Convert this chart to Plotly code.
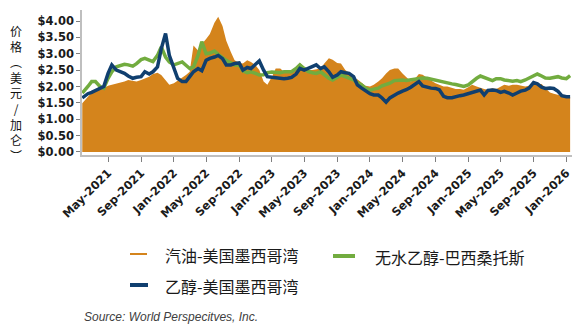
import plotly.graph_objects as go

# Semi-monthly sampling dates: one late-January 2021 start, then the 1st and 15th of each month
DATES = ["2021-01-25"]
for year in range(2021, 2027):
    for month in range(1, 13):
        if (year == 2021 and month == 1) or (year == 2026 and month > 1):
            continue
        DATES.append(f"{year}-{month:02d}-01")
        DATES.append(f"{year}-{month:02d}-15")

# Gasoline, US Gulf ($/gal)
GASOLINE_USGULF = [
    1.49,
    1.55, 1.70, 1.82, 1.88, 1.92, 1.95, 2.02, 2.05, 2.08, 2.12, 2.15, 2.20,
    2.18, 2.15, 2.20, 2.25, 2.30, 2.38, 2.42, 2.35, 2.20, 2.05,
    2.10, 2.18, 2.25, 2.35, 2.45, 3.25, 3.10, 3.30, 3.45, 3.60, 3.95, 4.13,
    3.85, 3.40, 3.05, 2.80, 2.72, 2.70, 2.80, 2.75, 2.65, 2.50, 2.15, 2.05,
    2.30, 2.55, 2.55, 2.45, 2.42, 2.45, 2.60, 2.72, 2.60, 2.50, 2.50, 2.52,
    2.55, 2.70, 2.86, 2.82, 2.72, 2.70, 2.50, 2.42, 2.20, 2.22, 2.10, 2.02,
    2.00, 2.05, 2.15, 2.25, 2.40, 2.50, 2.55, 2.55, 2.40, 2.28, 2.15, 2.22,
    2.38, 2.36, 2.25, 2.18, 2.10, 2.05, 2.00, 2.00, 1.95, 1.92, 1.92, 1.90,
    1.98, 2.05, 2.00, 1.95, 1.92, 1.90, 1.95, 1.92, 1.98, 2.05, 2.02, 2.05,
    2.05, 2.02, 2.00, 2.02, 2.05, 2.05, 2.08, 1.95, 1.82, 1.78, 1.74, 1.72,
    1.70, 1.68,
]

# Ethanol, US Gulf ($/gal)
ETHANOL_USGULF = [
    1.65,
    1.70, 1.78, 1.82, 1.88, 1.95, 2.00, 2.40, 2.66, 2.50, 2.45, 2.40, 2.32,
    2.25, 2.28, 2.30, 2.45, 2.38, 2.45, 2.60, 3.15, 3.62, 2.95,
    2.55, 2.25, 2.15, 2.15, 2.30, 2.45, 2.55, 2.48, 2.80, 2.86, 2.90, 2.95,
    2.85, 2.66, 2.66, 2.70, 2.72, 2.50, 2.58, 2.55, 2.68, 2.78, 2.50, 2.30,
    2.28, 2.26, 2.25, 2.24, 2.25, 2.28, 2.38, 2.55, 2.50, 2.55, 2.60, 2.66,
    2.55, 2.60, 2.45, 2.28, 2.35, 2.45, 2.42, 2.40, 2.30, 2.05, 1.95, 1.86,
    1.78, 1.74, 1.74, 1.65, 1.52, 1.65, 1.74, 1.80, 1.86, 1.90, 1.98, 2.05,
    2.15, 2.02, 1.98, 1.95, 1.94, 1.90, 1.70, 1.66, 1.66, 1.70, 1.72, 1.74,
    1.78, 1.82, 1.85, 1.89, 1.74, 1.88, 1.89, 1.88, 1.82, 1.85, 1.80, 1.74,
    1.80, 1.86, 1.89, 1.95, 2.12, 2.08, 1.98, 1.94, 1.95, 1.94, 1.85, 1.72,
    1.69, 1.69,
]

# Anhydrous ethanol, Brazil Santos ($/gal)
ANHYDROUS_SANTOS = [
    1.80,
    1.86, 2.00, 2.15, 2.15, 2.00, 1.95, 2.25, 2.45, 2.60, 2.65, 2.68, 2.66,
    2.62, 2.70, 2.82, 2.86, 2.80, 2.76, 2.95, 3.21, 2.90, 2.75,
    2.66, 2.70, 2.75, 2.65, 2.55, 2.60, 2.95, 3.37, 3.00, 3.02, 3.08, 2.98,
    2.88, 2.80, 2.72, 2.66, 2.66, 2.48, 2.42, 2.45, 2.40, 2.35, 2.36, 2.42,
    2.44, 2.42, 2.42, 2.45, 2.46, 2.45, 2.55, 2.66, 2.55, 2.46, 2.42, 2.40,
    2.45, 2.35, 2.25, 2.20, 2.28, 2.35, 2.30, 2.25, 2.20, 2.12, 2.05, 1.95,
    1.89, 1.92, 1.95, 2.02, 2.05, 2.10, 2.18, 2.20, 2.20, 2.18, 2.20, 2.22,
    2.25, 2.26, 2.25, 2.22, 2.20, 2.16, 2.12, 2.10, 2.08, 2.06, 2.04, 2.00,
    2.05, 2.15, 2.25, 2.32, 2.28, 2.24, 2.18, 2.24, 2.24, 2.20, 2.18, 2.16,
    2.18, 2.15, 2.20, 2.25, 2.32, 2.38, 2.32, 2.26, 2.25, 2.28, 2.30, 2.26,
    2.24, 2.33,
]

SERIES_NAMES = ["汽油-美国墨西哥湾", "无水乙醇-巴西桑托斯", "乙醇-美国墨西哥湾"]

TICK_DATES = ["2021-05-01", "2021-09-01", "2022-01-01", "2022-05-01", "2022-09-01",
              "2023-01-01", "2023-05-01", "2023-09-01", "2024-01-01", "2024-05-01",
              "2024-09-01", "2025-01-01", "2025-05-01", "2025-09-01", "2026-01-01"]
TICK_LABELS = ["May-2021", "Sep-2021", "Jan-2022", "May-2022", "Sep-2022",
               "Jan-2023", "May-2023", "Sep-2023", "Jan-2024", "May-2024",
               "Sep-2024", "Jan-2025", "May-2025", "Sep-2025", "Jan-2026"]

Y_TICKS = [0, 0.5, 1.0, 1.5, 2.0, 2.5, 3.0, 3.5, 4.0]
Y_TICK_LABELS = ["$0.00", "$0.50", "$1.00", "$1.50", "$2.00",
                 "$2.50", "$3.00", "$3.50", "$4.00"]
Y_TITLE_CHARS = ["价", "格", "︵", "美", "元", "/", "加", "仑", "︶"]
SOURCE_TEXT = "Source: World Perspecitves, Inc."

ORANGE = "#D4841C"
GREEN = "#72AC3F"
NAVY = "#103F6F"

W, H = 578, 334
ML, MR, MT, MB = 82, 6, 10, 179
PW, PH = W - ML - MR, H - MT - MB


def px(x):
    return (x - ML) / PW


def py(y):
    return (H - MB - y) / PH


fig = go.Figure()

fig.add_trace(go.Scatter(
    x=DATES, y=GASOLINE_USGULF, name=SERIES_NAMES[0], mode="lines",
    line=dict(width=0, color=ORANGE), fill="tozeroy", fillcolor=ORANGE,
    showlegend=False,
))
fig.add_trace(go.Scatter(
    x=DATES, y=ANHYDROUS_SANTOS, name=SERIES_NAMES[1], mode="lines",
    line=dict(width=3.5, color=GREEN), showlegend=False,
))
fig.add_trace(go.Scatter(
    x=DATES, y=ETHANOL_USGULF, name=SERIES_NAMES[2], mode="lines",
    line=dict(width=3.5, color=NAVY), showlegend=False,
))

tick_font = dict(family="DejaVu Sans", size=11.5, color="#1a1a1a", weight="bold")

fig.update_xaxes(
    type="date", range=["2021-01-24", "2026-01-22"],
    tickvals=TICK_DATES, ticktext=TICK_LABELS, tickangle=-45,
    tickfont=tick_font, showgrid=False, zeroline=False,
    showline=True, linecolor="#BFBFBF", linewidth=1.5,
    ticks="outside", ticklen=5, tickcolor="#7F7F7F", tickwidth=1,
)
fig.update_yaxes(
    range=[-0.092, 4.336], tickvals=Y_TICKS, ticktext=Y_TICK_LABELS,
    tickfont=tick_font, showgrid=False, zeroline=False,
    showline=True, linecolor="#BFBFBF", linewidth=1.5,
    ticks="outside", ticklen=4, tickcolor="#7F7F7F", tickwidth=1,
)

annotations = []
# Vertical axis title, one upright character per row
annotations.append(dict(
    text="<br>".join(Y_TITLE_CHARS), x=px(15.5), y=py(93), xref="paper", yref="paper",
    xanchor="center", yanchor="middle", align="center", showarrow=False,
    font=dict(family="Noto Sans CJK SC", size=12, color="#111111"),
))

# Legend entries: swatch shapes plus labels
legend_font = dict(family="Noto Sans CJK SC", size=16, color="#1a1a1a")
legend_items = [
    (SERIES_NAMES[0], ORANGE, 2, 130, 147, 254, 163),
    (SERIES_NAMES[1], GREEN, 4, 333, 355, 256, 373),
    (SERIES_NAMES[2], NAVY, 4, 130, 148, 285, 163),
]
shapes = []
for name, color, lw, x0, x1, yy, tx in legend_items:
    shapes.append(dict(type="line", xref="paper", yref="paper",
                       x0=px(x0), x1=px(x1), y0=py(yy), y1=py(yy),
                       line=dict(color=color, width=lw)))
    annotations.append(dict(
        text=name, x=px(tx), y=py(yy + 1), xref="paper", yref="paper",
        xanchor="left", yanchor="middle", showarrow=False, font=legend_font,
    ))

annotations.append(dict(
    text=f"<i>{SOURCE_TEXT}</i>", x=px(82), y=py(317), xref="paper", yref="paper",
    xanchor="left", yanchor="middle", showarrow=False,
    font=dict(family="Liberation Sans", size=12, color="#404040"),
))

fig.update_layout(
    width=W, height=H,
    margin=dict(l=ML, r=MR, t=MT, b=MB),
    paper_bgcolor="white", plot_bgcolor="white",
    annotations=annotations, shapes=shapes,
    showlegend=False,
)

fig.write_html("out.html")
